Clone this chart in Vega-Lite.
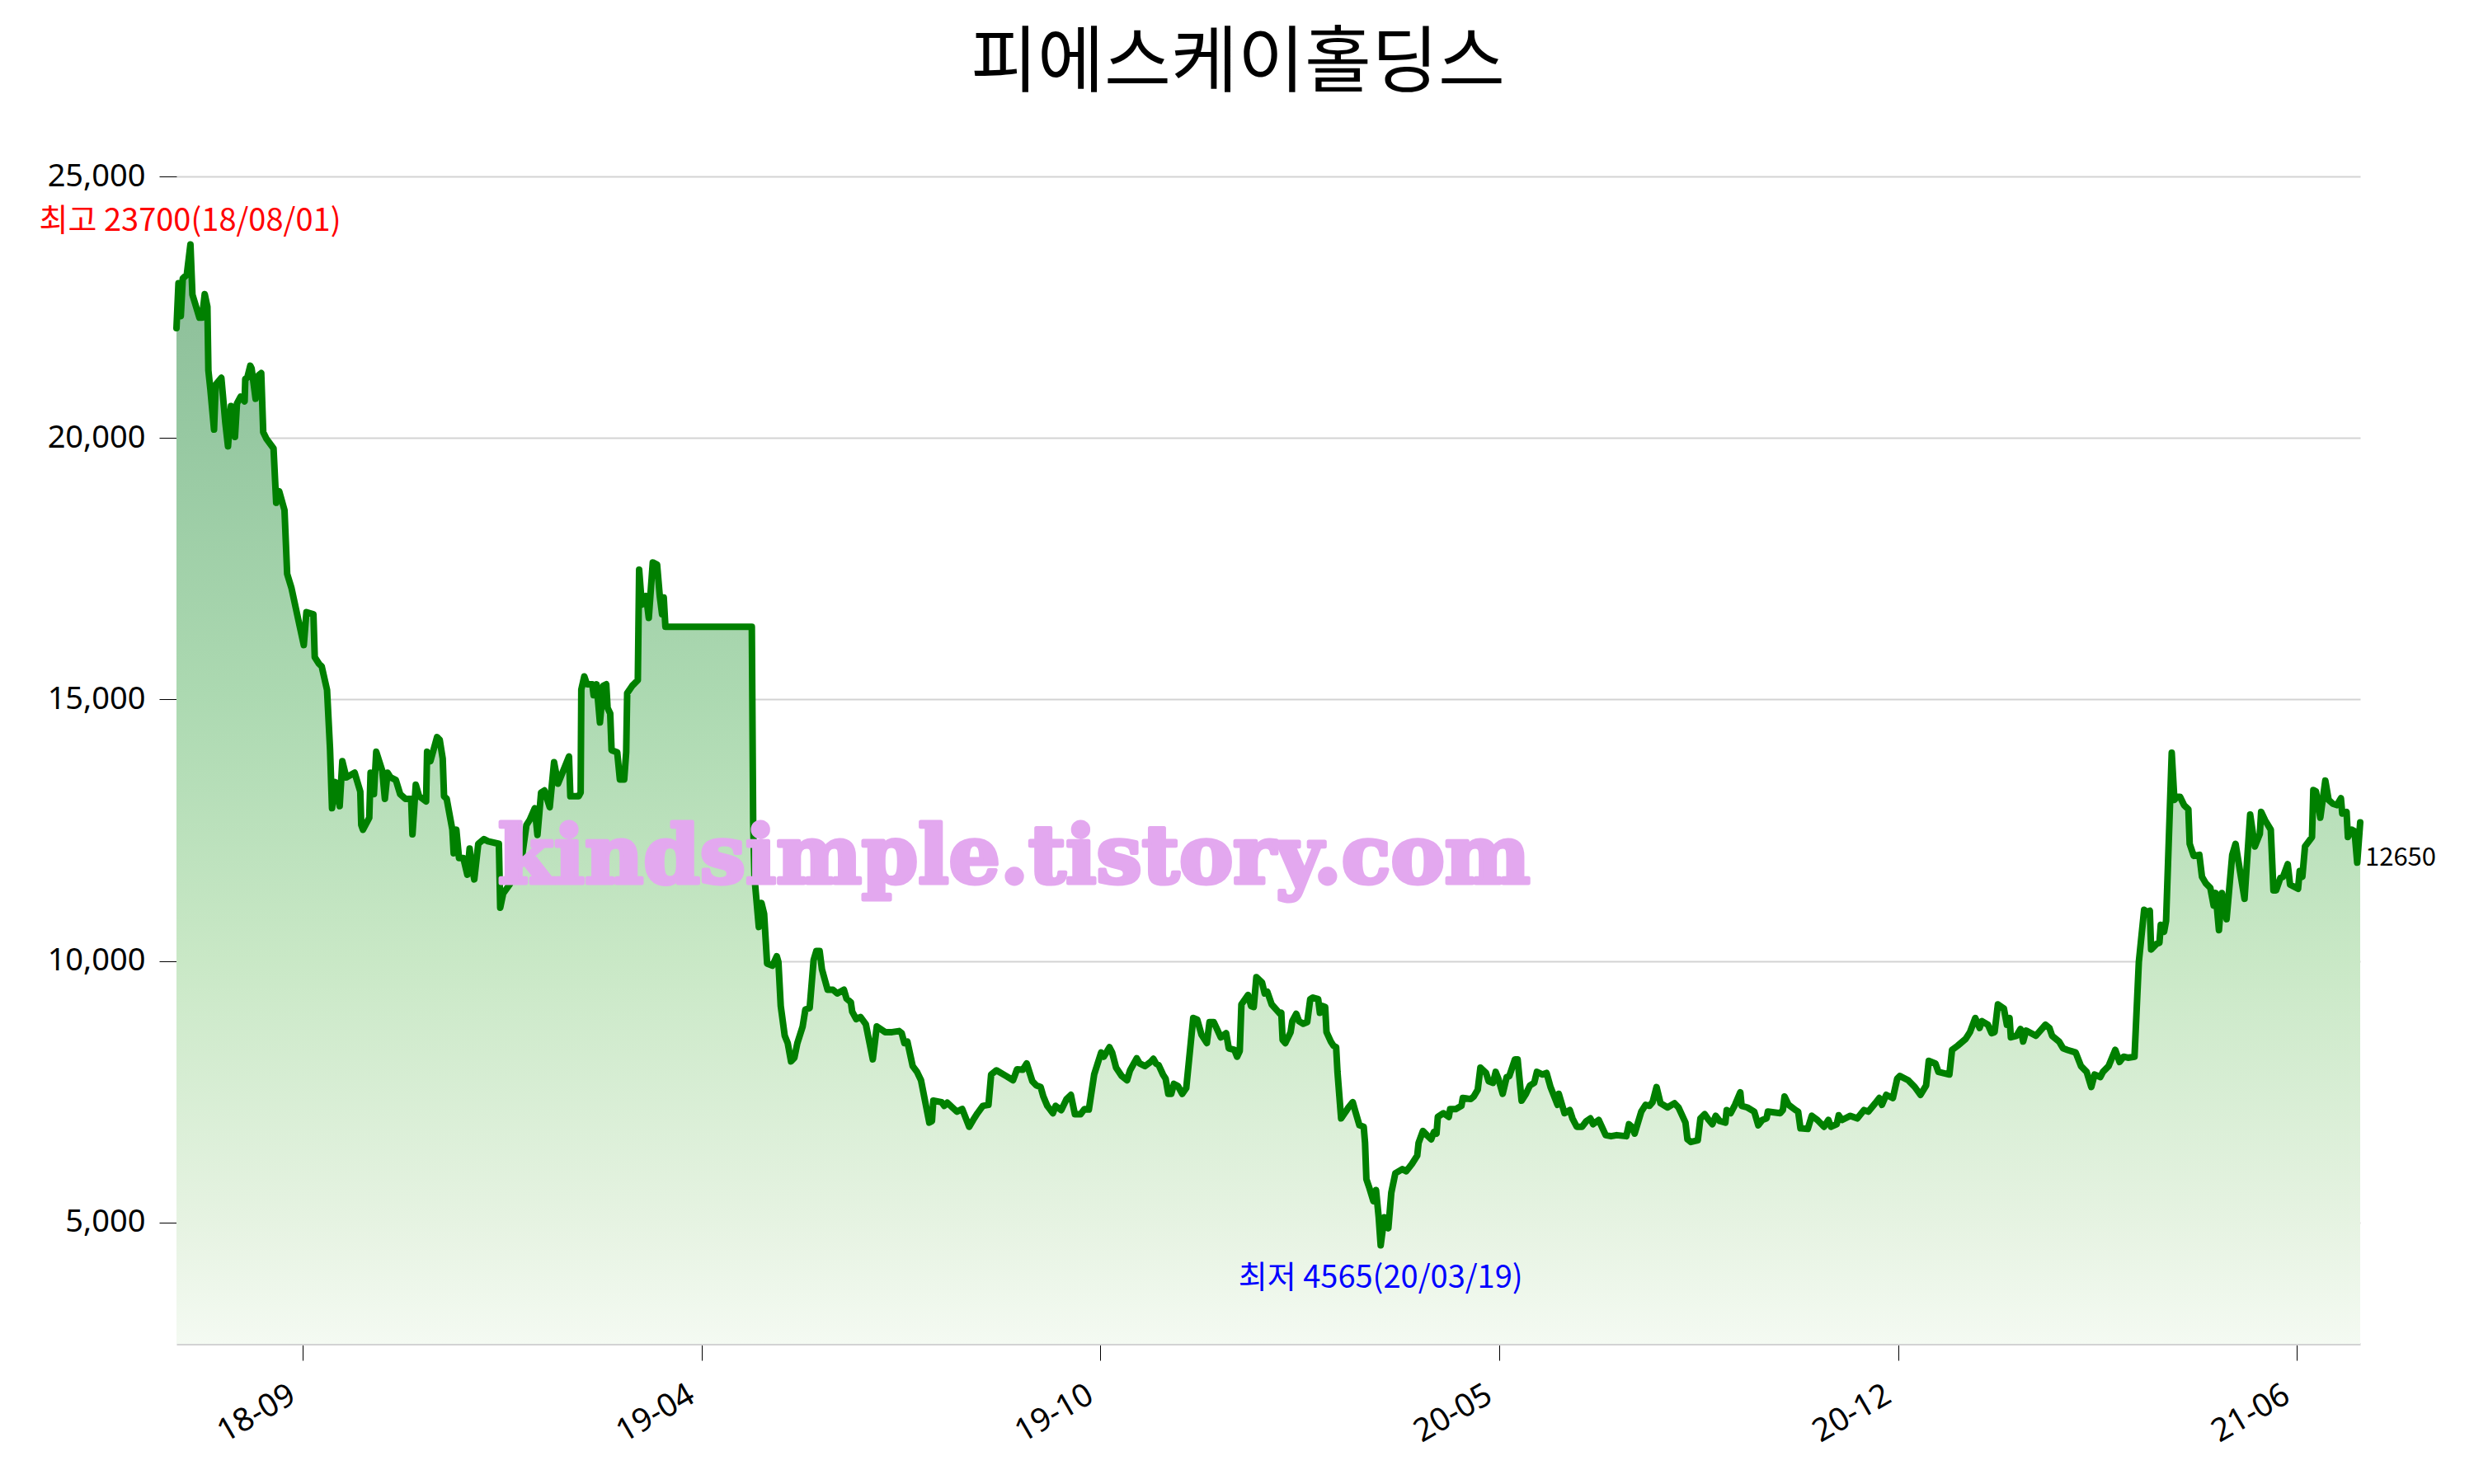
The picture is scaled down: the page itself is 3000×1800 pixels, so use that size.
{
"$schema":"https://vega.github.io/schema/vega-lite/v6.json",
"width":2648,"height":1416,
"autosize":{"type":"none"},
"padding":{"left":214,"top":214,"right":138,"bottom":170},
"background":"white",
"title":{"text":"피에스케이홀딩스","font":"Noto Sans CJK KR","fontSize":88,"fontWeight":"normal","color":"black","anchor":"middle","dx":-37,"offset":73},
"config":{"view":{"stroke":null},"font":"Noto Sans CJK KR"},
"datasets":{
"price":[
{"t":0,"v":22100},{"t":0.6,"v":22960},{"t":1.3,"v":22330},{"t":1.9,"v":23050},{"t":3.1,"v":23120},{"t":4.2,"v":23700},{"t":4.8,"v":22740},{"t":6.9,"v":22300},{"t":7.7,"v":22300},{"t":8.5,"v":22750},{"t":9.3,"v":22510},{"t":9.6,"v":21290},{"t":10.2,"v":20930},{"t":11.3,"v":20160},{"t":11.8,"v":21020},{"t":13.5,"v":21150},{"t":14.7,"v":20290},{"t":15.5,"v":19840},{"t":16.4,"v":20610},{"t":17.6,"v":20020},{"t":18.2,"v":20660},{"t":19.3,"v":20790},{"t":20.5,"v":20700},{"t":20.7,"v":21130},{"t":21.3,"v":21150},{"t":22.2,"v":21380},{"t":22.6,"v":21330},{"t":23.8,"v":20750},{"t":24.7,"v":21200},{"t":25.5,"v":21240},{"t":26.1,"v":20110},{"t":27.1,"v":19980},{"t":29.2,"v":19800},{"t":30.0,"v":18760},{"t":30.9,"v":18980},{"t":32.5,"v":18620},{"t":33.3,"v":17400},{"t":34.6,"v":17130},{"t":38.3,"v":16040},{"t":39.1,"v":16670},{"t":41.2,"v":16630},{"t":41.6,"v":15810},{"t":42.9,"v":15680},{"t":43.7,"v":15630},{"t":45.3,"v":15180},{"t":46.2,"v":14050},{"t":46.8,"v":12920},{"t":47.8,"v":13420},{"t":49.1,"v":12960},{"t":49.9,"v":13820},{"t":51.1,"v":13510},{"t":53.6,"v":13600},{"t":55.3,"v":13240},{"t":55.6,"v":12600},{"t":56.1,"v":12510},{"t":58.0,"v":12740},{"t":58.4,"v":13600},{"t":59.4,"v":13190},{"t":60.1,"v":14000},{"t":61.9,"v":13640},{"t":62.7,"v":13100},{"t":63.5,"v":13600},{"t":64.4,"v":13510},{"t":66.0,"v":13460},{"t":67.3,"v":13190},{"t":68.9,"v":13100},{"t":70.6,"v":13100},{"t":71.0,"v":12420},{"t":72.0,"v":13370},{"t":73.0,"v":13150},{"t":75.1,"v":13050},{"t":75.4,"v":14000},{"t":76.4,"v":13820},{"t":78.4,"v":14280},{"t":79.2,"v":14230},{"t":80.1,"v":13870},{"t":80.5,"v":13150},{"t":81.3,"v":13100},{"t":83.0,"v":12510},{"t":83.4,"v":12060},{"t":84.2,"v":12510},{"t":85.0,"v":11970},{"t":86.3,"v":11970},{"t":87.5,"v":11650},{"t":88.2,"v":12150},{"t":88.8,"v":11830},{"t":89.6,"v":11560},{"t":90.8,"v":12240},{"t":92.5,"v":12330},{"t":93.7,"v":12290},{"t":97.0,"v":12240},{"t":97.4,"v":11020},{"t":98.3,"v":11290},{"t":100.3,"v":11470},{"t":104.1,"v":12060},{"t":105.3,"v":12600},{"t":106.3,"v":12700},{"t":107.8,"v":12920},{"t":108.6,"v":12410},{"t":109.7,"v":13220},{"t":110.7,"v":13260},{"t":112.3,"v":12940},{"t":113.6,"v":13800},{"t":114.8,"v":13390},{"t":118.1,"v":13910},{"t":118.5,"v":13150},{"t":121.0,"v":13150},{"t":121.6,"v":13220},{"t":121.8,"v":15190},{"t":122.7,"v":15440},{"t":123.5,"v":15290},{"t":125.1,"v":15290},{"t":125.5,"v":15080},{"t":126.4,"v":15290},{"t":127.4,"v":14560},{"t":128.4,"v":15260},{"t":129.3,"v":15290},{"t":129.7,"v":14840},{"t":130.5,"v":14730},{"t":130.9,"v":14030},{"t":132.6,"v":13990},{"t":133.4,"v":13470},{"t":134.7,"v":13470},{"t":135.3,"v":13990},{"t":135.6,"v":15120},{"t":137.1,"v":15260},{"t":138.8,"v":15370},{"t":139.2,"v":17480},{"t":140.0,"v":16810},{"t":141.3,"v":16980},{"t":142.1,"v":16560},{"t":143.3,"v":17620},{"t":144.6,"v":17580},{"t":145.4,"v":16980},{"t":146.1,"v":16630},{"t":146.6,"v":16950},{"t":147.1,"v":16390},{"t":173.1,"v":16390},{"t":173.5,"v":12660},{"t":173.9,"v":11600},{"t":175.2,"v":10650},{"t":176.0,"v":11110},{"t":176.8,"v":10900},{"t":177.7,"v":9950},{"t":179.3,"v":9910},{"t":180.6,"v":10090},{"t":181.1,"v":9980},{"t":181.8,"v":9140},{"t":183.0,"v":8570},{"t":183.9,"v":8430},{"t":184.9,"v":8080},{"t":185.9,"v":8150},{"t":186.8,"v":8430},{"t":188.4,"v":8750},{"t":189.2,"v":9070},{"t":190.5,"v":9100},{"t":191.7,"v":10020},{"t":192.5,"v":10190},{"t":193.5,"v":10190},{"t":194.2,"v":9840},{"t":195.9,"v":9450},{"t":197.5,"v":9450},{"t":198.8,"v":9380},{"t":200.8,"v":9450},{"t":201.6,"v":9280},{"t":202.9,"v":9210},{"t":203.3,"v":9030},{"t":204.5,"v":8890},{"t":205.8,"v":8930},{"t":207.4,"v":8790},{"t":209.5,"v":8120},{"t":210.7,"v":8750},{"t":213.2,"v":8640},{"t":215.3,"v":8640},{"t":217.4,"v":8660},{"t":218.2,"v":8620},{"t":219.0,"v":8430},{"t":219.9,"v":8460},{"t":221.5,"v":7990},{"t":222.8,"v":7880},{"t":224.0,"v":7720},{"t":226.5,"v":6910},{"t":227.3,"v":6940},{"t":227.7,"v":7330},{"t":230.2,"v":7300},{"t":231.0,"v":7230},{"t":231.9,"v":7290},{"t":234.8,"v":7120},{"t":236.4,"v":7170},{"t":238.5,"v":6830},{"t":239.7,"v":6960},{"t":241.0,"v":7090},{"t":242.6,"v":7230},{"t":244.3,"v":7250},{"t":245.1,"v":7830},{"t":246.7,"v":7910},{"t":249.6,"v":7800},{"t":251.7,"v":7720},{"t":252.9,"v":7930},{"t":254.6,"v":7920},{"t":255.8,"v":8040},{"t":257.5,"v":7700},{"t":258.7,"v":7620},{"t":260.0,"v":7590},{"t":260.8,"v":7410},{"t":262.0,"v":7230},{"t":263.7,"v":7090},{"t":264.5,"v":7230},{"t":266.2,"v":7150},{"t":267.8,"v":7360},{"t":269.1,"v":7440},{"t":270.3,"v":7070},{"t":272.0,"v":7070},{"t":273.2,"v":7170},{"t":274.5,"v":7160},{"t":276.1,"v":7830},{"t":278.2,"v":8250},{"t":279.0,"v":8170},{"t":280.7,"v":8350},{"t":281.5,"v":8250},{"t":282.7,"v":7960},{"t":284.4,"v":7800},{"t":286.0,"v":7720},{"t":286.9,"v":7910},{"t":288.9,"v":8140},{"t":289.8,"v":8040},{"t":291.4,"v":7990},{"t":293.1,"v":8070},{"t":293.9,"v":8130},{"t":294.7,"v":8040},{"t":295.5,"v":8010},{"t":296.8,"v":7830},{"t":297.6,"v":7750},{"t":298.4,"v":7460},{"t":299.3,"v":7460},{"t":300.1,"v":7650},{"t":301.3,"v":7610},{"t":302.6,"v":7460},{"t":303.8,"v":7570},{"t":305.9,"v":8910},{"t":307.1,"v":8880},{"t":308.4,"v":8590},{"t":310.0,"v":8430},{"t":310.8,"v":8830},{"t":312.1,"v":8830},{"t":314.2,"v":8540},{"t":315.8,"v":8620},{"t":316.6,"v":8330},{"t":318.3,"v":8300},{"t":319.1,"v":8170},{"t":319.9,"v":8280},{"t":320.4,"v":9170},{"t":322.4,"v":9350},{"t":323.3,"v":9140},{"t":324.1,"v":9120},{"t":324.9,"v":9690},{"t":326.6,"v":9590},{"t":327.4,"v":9380},{"t":328.2,"v":9410},{"t":329.5,"v":9170},{"t":332.0,"v":8990},{"t":332.4,"v":9010},{"t":332.8,"v":8490},{"t":333.6,"v":8430},{"t":335.2,"v":8640},{"t":335.7,"v":8850},{"t":336.9,"v":8990},{"t":337.7,"v":8850},{"t":339.0,"v":8800},{"t":340.2,"v":8830},{"t":341.1,"v":9270},{"t":341.9,"v":9300},{"t":343.5,"v":9270},{"t":344.0,"v":9010},{"t":344.8,"v":9140},{"t":345.6,"v":9120},{"t":346.0,"v":8640},{"t":347.3,"v":8460},{"t":348.1,"v":8380},{"t":348.9,"v":8350},{"t":349.3,"v":7880},{"t":350.4,"v":6990},{"t":351.8,"v":7120},{"t":352.6,"v":7200},{"t":353.9,"v":7300},{"t":354.7,"v":7120},{"t":355.9,"v":6860},{"t":357.2,"v":6830},{"t":357.6,"v":6520},{"t":358.0,"v":5830},{"t":358.8,"v":5680},{"t":360.1,"v":5410},{"t":360.9,"v":5620},{"t":361.7,"v":5100},{"t":362.3,"v":4565},{"t":363.4,"v":5100},{"t":364.6,"v":4890},{"t":365.5,"v":5570},{"t":366.7,"v":5940},{"t":368.8,"v":6020},{"t":370.0,"v":5980},{"t":371.7,"v":6120},{"t":373.3,"v":6280},{"t":373.7,"v":6520},{"t":375.0,"v":6750},{"t":376.2,"v":6670},{"t":377.5,"v":6590},{"t":378.3,"v":6730},{"t":379.1,"v":6700},{"t":379.5,"v":7020},{"t":381.2,"v":7090},{"t":382.8,"v":7020},{"t":383.2,"v":7170},{"t":384.9,"v":7170},{"t":386.6,"v":7230},{"t":387.0,"v":7380},{"t":389.4,"v":7360},{"t":390.3,"v":7410},{"t":391.5,"v":7540},{"t":392.3,"v":7960},{"t":394.0,"v":7860},{"t":394.8,"v":7700},{"t":396.1,"v":7670},{"t":396.9,"v":7880},{"t":397.7,"v":7750},{"t":399.0,"v":7460},{"t":400.2,"v":7780},{"t":401.0,"v":7800},{"t":402.7,"v":8120},{"t":403.5,"v":8120},{"t":404.7,"v":7330},{"t":406.0,"v":7460},{"t":407.2,"v":7620},{"t":408.5,"v":7670},{"t":409.3,"v":7880},{"t":411.0,"v":7830},{"t":412.2,"v":7860},{"t":413.4,"v":7590},{"t":414.7,"v":7380},{"t":415.5,"v":7250},{"t":415.9,"v":7460},{"t":417.6,"v":7090},{"t":419.2,"v":7150},{"t":420.0,"v":6990},{"t":421.3,"v":6830},{"t":422.9,"v":6830},{"t":424.2,"v":6940},{"t":425.4,"v":6990},{"t":426.2,"v":6880},{"t":427.9,"v":6960},{"t":430.0,"v":6670},{"t":431.6,"v":6650},{"t":433.3,"v":6670},{"t":436.2,"v":6650},{"t":437.0,"v":6880},{"t":437.8,"v":6830},{"t":438.7,"v":6700},{"t":440.7,"v":7120},{"t":442.0,"v":7250},{"t":443.2,"v":7230},{"t":444.1,"v":7300},{"t":445.3,"v":7590},{"t":446.5,"v":7280},{"t":448.6,"v":7200},{"t":450.7,"v":7280},{"t":451.9,"v":7200},{"t":454.0,"v":6910},{"t":454.6,"v":6590},{"t":455.6,"v":6540},{"t":457.7,"v":6570},{"t":458.5,"v":6990},{"t":459.8,"v":7070},{"t":461.0,"v":6960},{"t":462.1,"v":6880},{"t":463.1,"v":7040},{"t":464.3,"v":6940},{"t":466.0,"v":6910},{"t":466.4,"v":7150},{"t":467.6,"v":7090},{"t":468.9,"v":7250},{"t":470.5,"v":7490},{"t":470.9,"v":7230},{"t":472.6,"v":7200},{"t":474.7,"v":7120},{"t":475.9,"v":6860},{"t":477.1,"v":6960},{"t":478.4,"v":6990},{"t":478.8,"v":7120},{"t":482.5,"v":7090},{"t":483.3,"v":7150},{"t":483.8,"v":7410},{"t":485.0,"v":7250},{"t":487.1,"v":7150},{"t":487.9,"v":7120},{"t":488.6,"v":6800},{"t":490.8,"v":6790},{"t":492.0,"v":7040},{"t":493.7,"v":6960},{"t":495.7,"v":6830},{"t":497.0,"v":6960},{"t":497.8,"v":6830},{"t":499.5,"v":6880},{"t":500.1,"v":7050},{"t":501.1,"v":6960},{"t":503.6,"v":7040},{"t":505.7,"v":6990},{"t":507.7,"v":7150},{"t":509.0,"v":7120},{"t":511.1,"v":7280},{"t":512.3,"v":7380},{"t":513.1,"v":7250},{"t":514.4,"v":7440},{"t":516.4,"v":7380},{"t":517.7,"v":7750},{"t":518.5,"v":7800},{"t":521.0,"v":7720},{"t":523.0,"v":7590},{"t":524.7,"v":7440},{"t":526.4,"v":7620},{"t":527.2,"v":8090},{"t":529.2,"v":8040},{"t":530.1,"v":7880},{"t":533.4,"v":7830},{"t":534.2,"v":8300},{"t":535.9,"v":8380},{"t":538.3,"v":8510},{"t":539.6,"v":8640},{"t":541.2,"v":8910},{"t":542.5,"v":8720},{"t":543.2,"v":8850},{"t":545.0,"v":8780},{"t":546.1,"v":8620},{"t":547.0,"v":8640},{"t":548.0,"v":9170},{"t":549.8,"v":9090},{"t":550.7,"v":8780},{"t":551.5,"v":8910},{"t":551.9,"v":8540},{"t":553.6,"v":8570},{"t":554.8,"v":8700},{"t":555.6,"v":8460},{"t":556.5,"v":8670},{"t":559.4,"v":8570},{"t":562.3,"v":8780},{"t":563.5,"v":8720},{"t":564.3,"v":8570},{"t":566.4,"v":8460},{"t":567.6,"v":8330},{"t":568.9,"v":8300},{"t":571.4,"v":8250},{"t":573.0,"v":7990},{"t":574.7,"v":7880},{"t":576.1,"v":7590},{"t":577.1,"v":7830},{"t":578.8,"v":7780},{"t":579.6,"v":7880},{"t":581.3,"v":7990},{"t":583.3,"v":8300},{"t":584.6,"v":8070},{"t":585.8,"v":8170},{"t":587.1,"v":8150},{"t":589.1,"v":8170},{"t":590.4,"v":9980},{"t":592.0,"v":10980},{"t":592.7,"v":10930},{"t":593.7,"v":10960},{"t":594.1,"v":10220},{"t":595.8,"v":10330},{"t":596.6,"v":10350},{"t":597.0,"v":10690},{"t":598.0,"v":10560},{"t":598.6,"v":10770},{"t":600.3,"v":13980},{"t":601.1,"v":13080},{"t":601.9,"v":13140},{"t":602.8,"v":13140},{"t":604.0,"v":12980},{"t":605.3,"v":12900},{"t":605.7,"v":12240},{"t":606.9,"v":12010},{"t":608.6,"v":12030},{"t":609.4,"v":11610},{"t":610.6,"v":11480},{"t":611.9,"v":11400},{"t":612.9,"v":11060},{"t":613.5,"v":11300},{"t":614.5,"v":10590},{"t":615.4,"v":11300},{"t":616.8,"v":10800},{"t":618.5,"v":12030},{"t":619.5,"v":12240},{"t":622.2,"v":11190},{"t":623.9,"v":12800},{"t":625.3,"v":12190},{"t":626.8,"v":12430},{"t":627.2,"v":12850},{"t":628.4,"v":12690},{"t":630.1,"v":12510},{"t":630.9,"v":11350},{"t":631.7,"v":11350},{"t":633.0,"v":11590},{"t":633.8,"v":11610},{"t":635.2,"v":11850},{"t":635.9,"v":11460},{"t":638.3,"v":11380},{"t":638.8,"v":11720},{"t":639.6,"v":11610},{"t":640.4,"v":12190},{"t":642.5,"v":12370},{"t":642.9,"v":13270},{"t":643.7,"v":13240},{"t":645.0,"v":12740},{"t":646.5,"v":13450},{"t":647.5,"v":13080},{"t":648.7,"v":13010},{"t":650.0,"v":12980},{"t":651.2,"v":13110},{"t":651.6,"v":12820},{"t":652.9,"v":12850},{"t":653.3,"v":12370},{"t":654.5,"v":12510},{"t":655.3,"v":12480},{"t":656.1,"v":11880},{"t":657.0,"v":12650}
]},
"encoding":{
"x":{"field":"t","type":"quantitative","scale":{"domain":[0,657],"nice":false,"zero":false},
"axis":{"title":null,"grid":false,"values":[38,158,278,398,518,638],
"labelExpr":"datum.value==38?'18-09':datum.value==158?'19-04':datum.value==278?'19-10':datum.value==398?'20-05':datum.value==518?'20-12':'21-06'",
"domainColor":"#d3d3d3","domainWidth":3,"tickColor":"black","tickWidth":1,"tickSize":20,
"labelAngle":-30,"labelAlign":"right","labelBaseline":"top","labelFont":"Noto Sans","labelFontSize":39,"labelColor":"black","labelPadding":22,"labelOffset":-22,"labelOverlap":false,"labelFlush":false}},
"y":{"field":"v","type":"quantitative","scale":{"domain":[2680,25000],"nice":false,"zero":false},
"axis":{"title":null,"values":[5000,10000,15000,20000,25000],"format":",.0f","domain":false,"tickColor":"black","tickWidth":1,"tickSize":21,
"gridColor":"#d3d3d3","gridWidth":2,"labelFont":"Noto Sans","labelFontSize":38,"labelColor":"black","labelPadding":17}}
},
"layer":[
{"data":{"name":"price"},"mark":{"type":"area","interpolate":"linear","color":{"gradient":"linear","x1":0,"y1":0,"x2":0,"y2":1,"stops":[{"offset":0,"color":"#8bbd98"},{"offset":0.18,"color":"#97c9a2"},{"offset":0.41,"color":"#acd9b1"},{"offset":0.65,"color":"#c9e8c6"},{"offset":0.89,"color":"#e6f3e2"},{"offset":1,"color":"#f4faf2"}]}},
"encoding":{"y2":{"datum":2680}}},
{"data":{"name":"price"},"mark":{"type":"line","color":"#008000","strokeWidth":8,"strokeJoin":"round","strokeCap":"round"}},
{"data":{"values":[{"t":252,"v":11490,"wm":"kindsimple.tistory.com"}]},"mark":{"type":"text","font":"DejaVu Serif","fontWeight":"bold","fontSize":98,"color":"#e3a8ef","stroke":"#e3a8ef","strokeWidth":5,"strokeJoin":"round","align":"center","baseline":"alphabetic"},
"encoding":{"text":{"field":"wm"}}},
{"data":{"values":[{"t":4.1,"v":23700,"label":"최고 23700(18/08/01)"}]},"mark":{"type":"text","color":"red","fontSize":38,"align":"center","baseline":"alphabetic","dy":-16},"encoding":{"text":{"field":"label"}}},
{"data":{"values":[{"t":362.3,"v":4565,"label":"최저 4565(20/03/19)"}]},"mark":{"type":"text","color":"blue","fontSize":38,"align":"center","baseline":"alphabetic","dy":52},"encoding":{"text":{"field":"label"}}},
{"data":{"values":[{"t":657,"v":12650,"label":"12650"}]},"mark":{"type":"text","color":"black","fontSize":31,"align":"left","baseline":"alphabetic","dx":6,"dy":53},"encoding":{"text":{"field":"label"}}}
]
}
